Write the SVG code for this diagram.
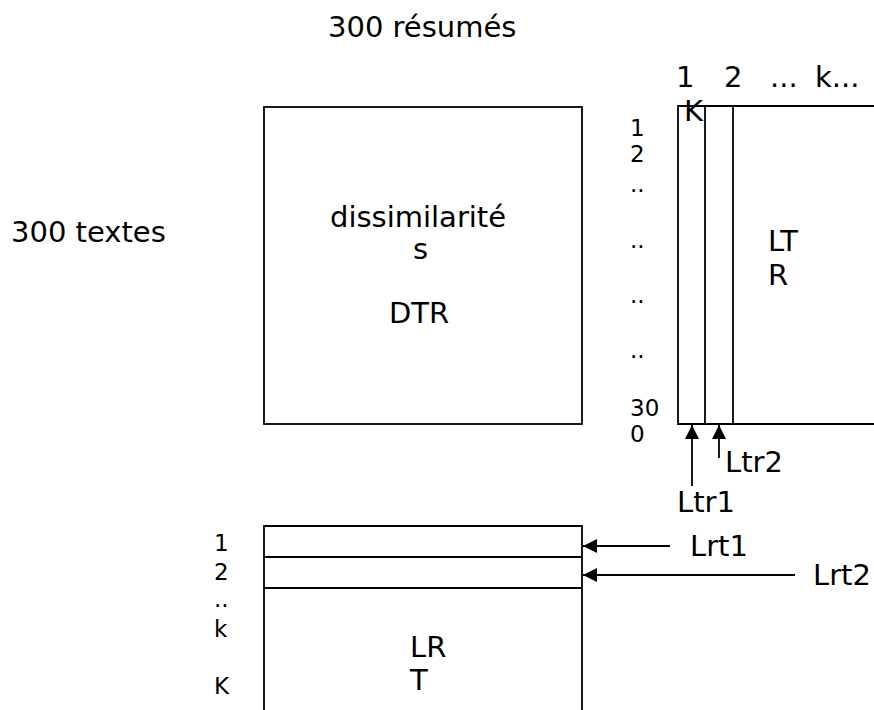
<svg xmlns="http://www.w3.org/2000/svg" width="874" height="710" viewBox="0 0 874 710">
<style>
text{font-family:"DejaVu Sans",sans-serif;fill:#000}
.b{font-size:29px}
.s{font-size:23px}
.box{fill:none;stroke:#000;stroke-width:1.8}
.ln{stroke:#000;stroke-width:1.8;fill:none}
</style>
<defs>
<marker id="ah" viewBox="0 0 10 10" refX="10" refY="5" markerWidth="15" markerHeight="14" markerUnits="userSpaceOnUse" orient="auto">
<path d="M0,0 L10,5 L0,10 z" fill="#000"/>
</marker>
</defs>
<rect width="874" height="710" fill="#fff"/>
<text class="b" x="328" y="37">300 résumés</text>
<text class="b" x="11" y="242">300 textes</text>
<g id="dtr">
<rect class="box" x="264" y="107" width="318" height="317"/>
<text class="b" x="330" y="227">dissimilarité</text>
<text class="b" x="413" y="259">s</text>
<text class="b" x="389" y="323">DTR</text>
</g>
<g id="ltr">
<path class="box" d="M874,106 H678 V424 H874"/>
<line class="ln" x1="705" y1="106" x2="705" y2="424"/>
<line class="ln" x1="733" y1="106" x2="733" y2="424"/>
<text class="b" x="676" y="87">1</text>
<text class="b" x="724" y="87">2</text>
<text class="b" x="770" y="87">...</text>
<text class="b" x="815" y="87">k...</text>
<text class="b" x="684" y="121">K</text>
<text class="s" x="630" y="136">1</text>
<text class="s" x="630" y="162">2</text>
<text class="s" x="630" y="192">..</text>
<text class="s" x="630" y="248">..</text>
<text class="s" x="630" y="303">..</text>
<text class="s" x="630" y="358">..</text>
<text class="s" x="630" y="416">30</text>
<text class="s" x="630" y="442">0</text>
<text class="b" x="768" y="251">LT</text>
<text class="b" x="768" y="285">R</text>
</g>
<g id="lrt">
<path class="box" d="M264,710 V526 H582 V710"/>
<line class="ln" x1="264" y1="557" x2="582" y2="557"/>
<line class="ln" x1="264" y1="588" x2="582" y2="588"/>
<text class="s" x="214" y="551">1</text>
<text class="s" x="214" y="580">2</text>
<text class="s" x="214" y="607">..</text>
<text class="s" x="214" y="637">k</text>
<text class="s" x="214" y="694">K</text>
<text class="b" x="410" y="657">LR</text>
<text class="b" x="410" y="690">T</text>
</g>
<g id="connectors">
<line class="ln" x1="692" y1="486" x2="692" y2="425" marker-end="url(#ah)"/>
<line class="ln" x1="719" y1="458" x2="719" y2="425" marker-end="url(#ah)"/>
<line class="ln" x1="670" y1="546" x2="583" y2="546" marker-end="url(#ah)"/>
<line class="ln" x1="795" y1="575" x2="583" y2="575" marker-end="url(#ah)"/>
</g>
<g id="labels">
<text class="b" x="725" y="472">Ltr2</text>
<text class="b" x="677" y="512">Ltr1</text>
<text class="b" x="690" y="556">Lrt1</text>
<text class="b" x="813" y="585">Lrt2</text>
</g>
</svg>
